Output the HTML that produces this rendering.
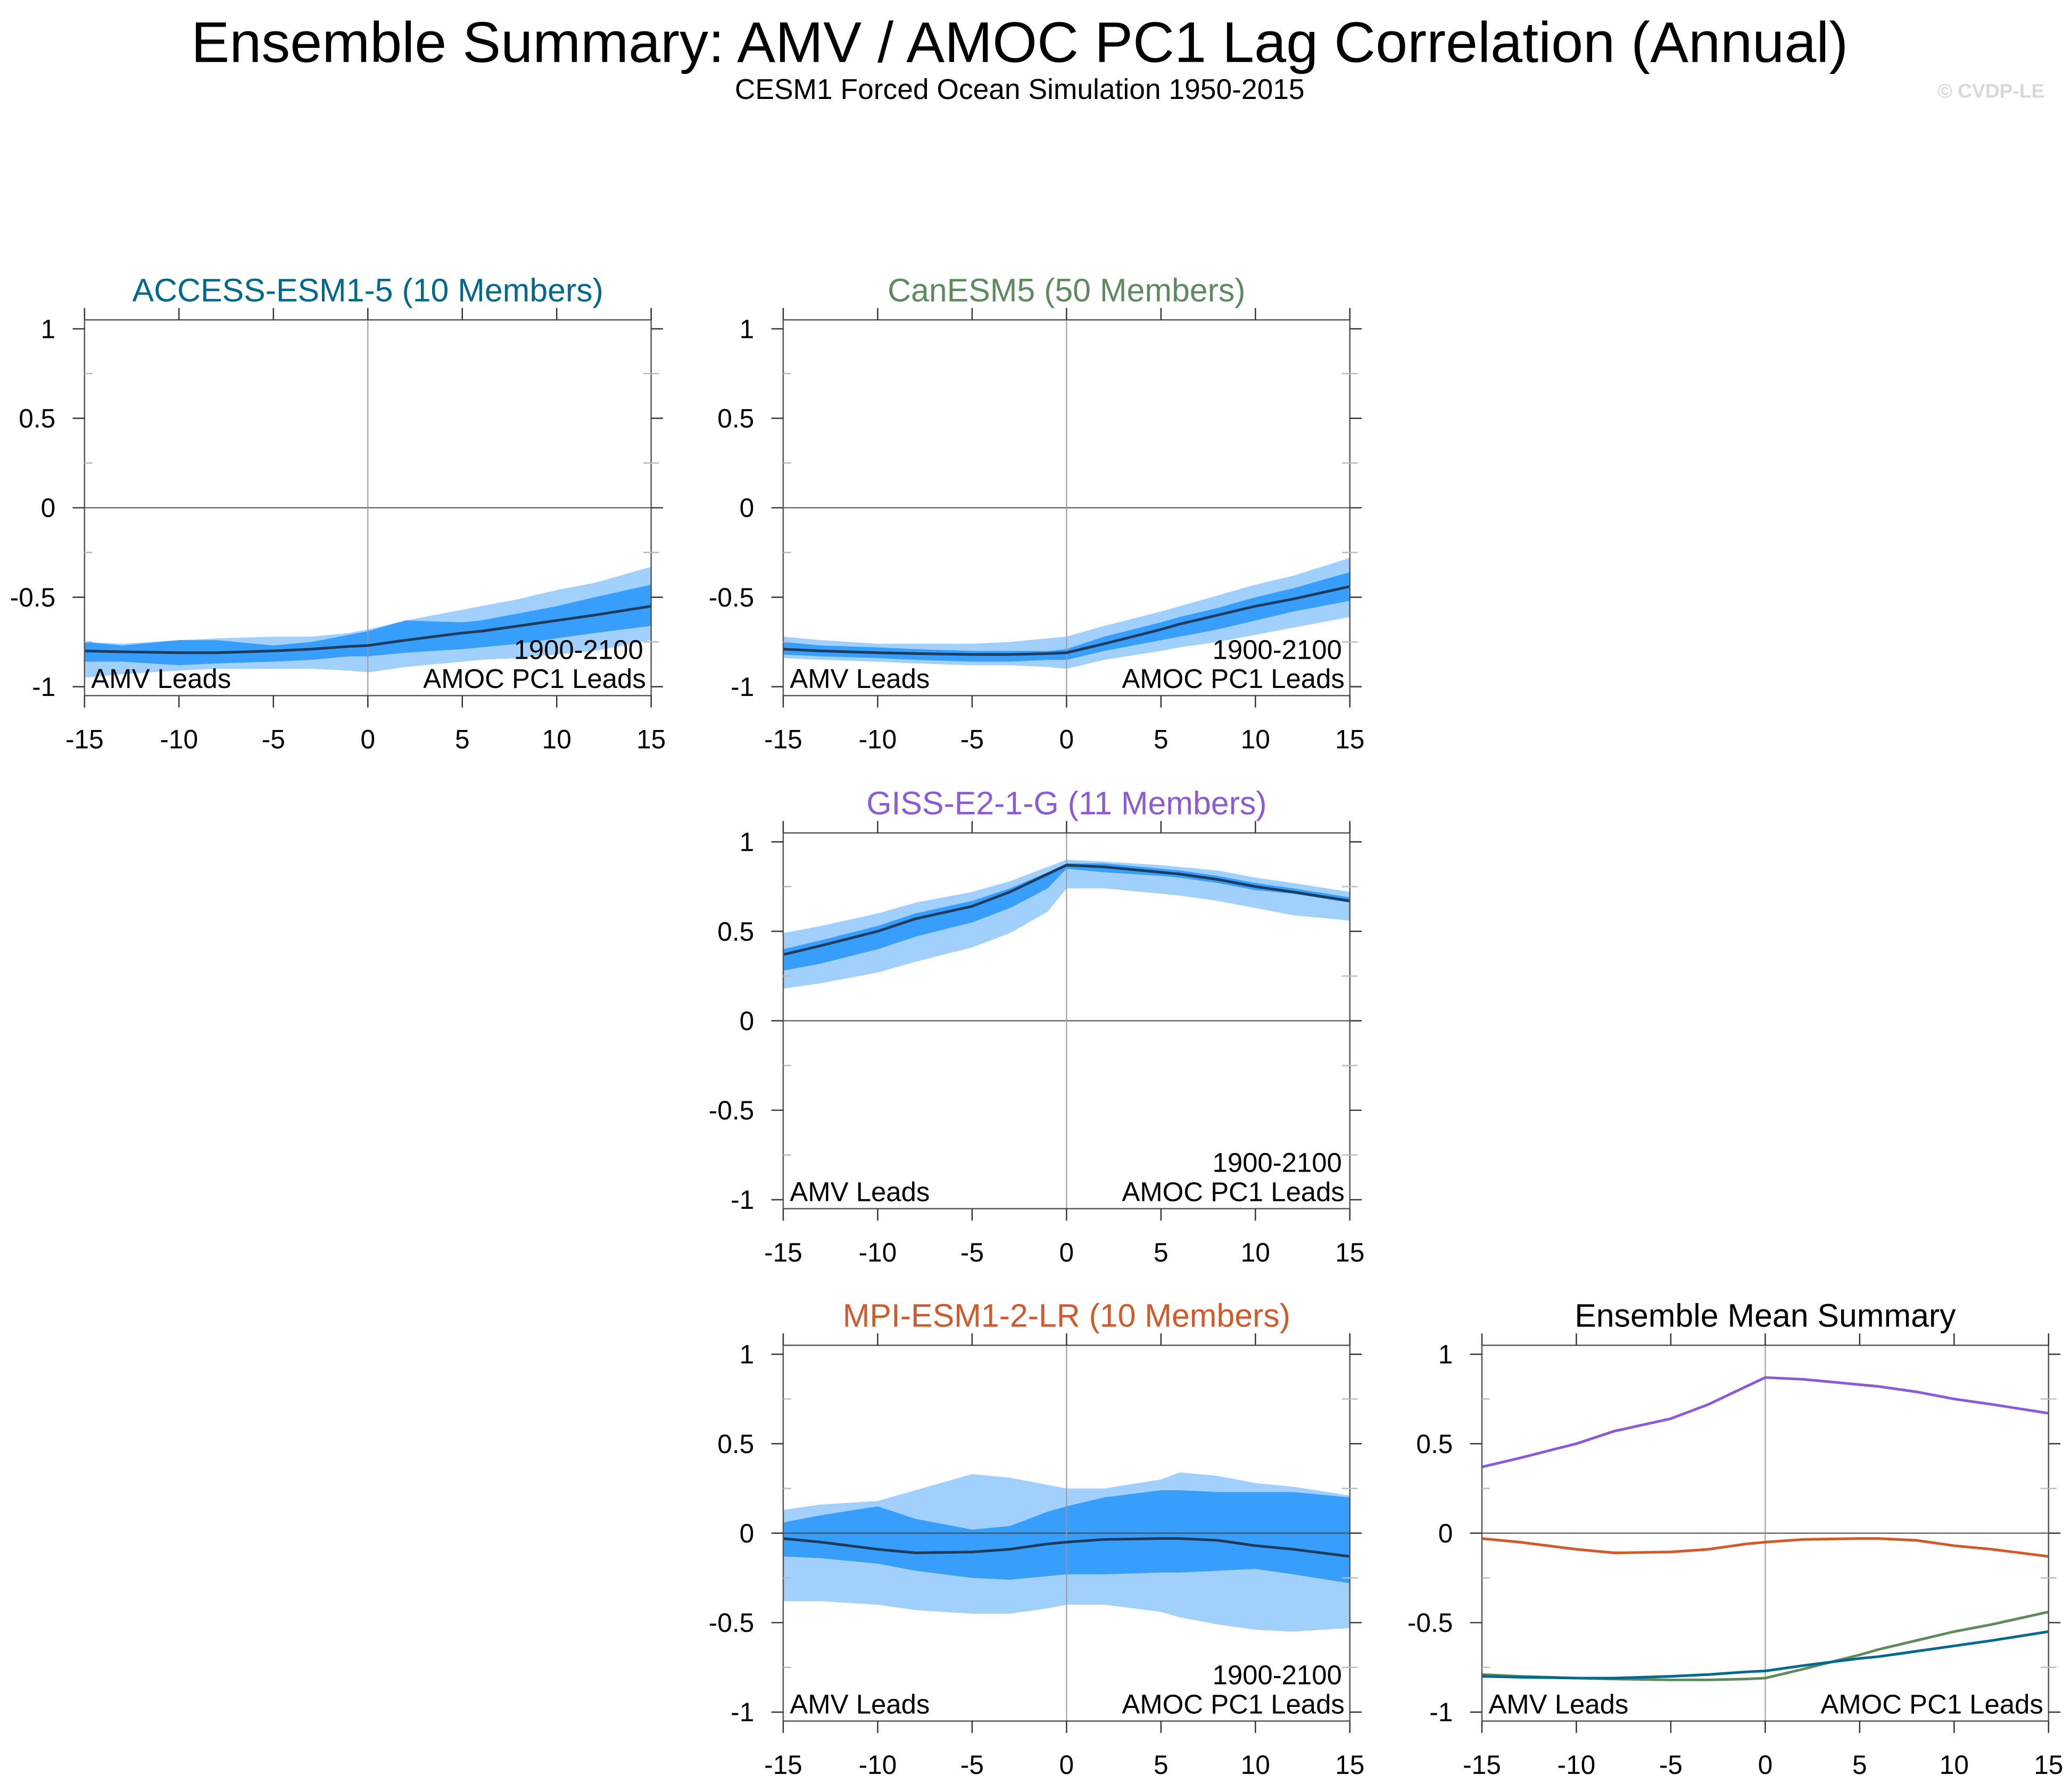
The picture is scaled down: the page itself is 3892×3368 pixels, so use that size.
<!DOCTYPE html>
<html><head><meta charset="utf-8"><style>
html,body{margin:0;padding:0;background:#fff;}
svg{display:block;font-family:"Liberation Sans",sans-serif;}
</style></head><body>
<svg id="chart" width="3892" height="3368" viewBox="0 0 1568 1357" preserveAspectRatio="none" xmlns="http://www.w3.org/2000/svg">
<text x="772" y="47" font-size="43.5" text-anchor="middle" fill="#000">Ensemble Summary: AMV / AMOC PC1 Lag Correlation (Annual)</text>
<text x="772" y="75" font-size="21.5" text-anchor="middle" fill="#000">CESM1 Forced Ocean Simulation 1950-2015</text>
<text x="1548" y="74" font-size="15" font-weight="bold" text-anchor="end" fill="#d8d8d8">© CVDP-LE</text>
<g id="plots"></g>
</svg>
<script>
const lags = [-15,-13,-10,-8,-5,-3,-1,0,2,5,6,8,10,12,15];
const accessMean = [-0.80,-0.805,-0.81,-0.81,-0.80,-0.79,-0.775,-0.77,-0.74,-0.70,-0.69,-0.66,-0.63,-0.60,-0.55];
const accessDarkU = [-0.75,-0.77,-0.74,-0.74,-0.77,-0.75,-0.71,-0.69,-0.63,-0.64,-0.63,-0.59,-0.55,-0.50,-0.43];
const accessDarkL = [-0.86,-0.86,-0.88,-0.87,-0.86,-0.85,-0.83,-0.83,-0.81,-0.79,-0.78,-0.76,-0.73,-0.70,-0.66];
const accessLightU = [-0.75,-0.76,-0.74,-0.73,-0.72,-0.72,-0.70,-0.68,-0.63,-0.57,-0.55,-0.51,-0.46,-0.42,-0.33];
const accessLightL = [-0.95,-0.93,-0.91,-0.90,-0.90,-0.90,-0.91,-0.92,-0.89,-0.86,-0.85,-0.84,-0.82,-0.80,-0.74];
const canMean = [-0.79,-0.80,-0.81,-0.815,-0.82,-0.82,-0.815,-0.81,-0.76,-0.68,-0.65,-0.60,-0.55,-0.51,-0.44];
const canDarkU = [-0.75,-0.77,-0.78,-0.79,-0.80,-0.80,-0.80,-0.79,-0.72,-0.64,-0.61,-0.56,-0.50,-0.45,-0.36];
const canDarkL = [-0.82,-0.83,-0.84,-0.85,-0.86,-0.86,-0.85,-0.85,-0.80,-0.74,-0.72,-0.68,-0.63,-0.58,-0.52];
const canLightU = [-0.72,-0.74,-0.76,-0.76,-0.76,-0.75,-0.73,-0.72,-0.66,-0.58,-0.55,-0.49,-0.43,-0.38,-0.28];
const canLightL = [-0.84,-0.85,-0.86,-0.87,-0.88,-0.88,-0.89,-0.90,-0.85,-0.80,-0.78,-0.75,-0.71,-0.67,-0.61];
const gissMean = [0.37,0.42,0.50,0.57,0.64,0.72,0.82,0.87,0.86,0.83,0.82,0.79,0.75,0.72,0.67];
const gissDarkU = [0.40,0.45,0.53,0.60,0.67,0.74,0.83,0.88,0.88,0.85,0.84,0.81,0.77,0.74,0.69];
const gissDarkL = [0.28,0.32,0.40,0.47,0.55,0.63,0.74,0.85,0.83,0.81,0.80,0.77,0.73,0.71,0.66];
const gissLightU = [0.49,0.53,0.60,0.66,0.72,0.78,0.86,0.90,0.89,0.87,0.86,0.84,0.80,0.77,0.72];
const gissLightL = [0.18,0.21,0.27,0.33,0.41,0.49,0.61,0.74,0.74,0.71,0.70,0.67,0.63,0.59,0.56];
const mpiMean = [-0.03,-0.05,-0.09,-0.11,-0.105,-0.09,-0.06,-0.05,-0.035,-0.03,-0.03,-0.04,-0.07,-0.09,-0.13];
const mpiDarkU = [0.06,0.10,0.15,0.08,0.02,0.04,0.12,0.15,0.20,0.24,0.24,0.23,0.23,0.23,0.20];
const mpiDarkL = [-0.13,-0.14,-0.17,-0.21,-0.25,-0.26,-0.24,-0.23,-0.23,-0.22,-0.22,-0.21,-0.20,-0.23,-0.28];
const mpiLightU = [0.13,0.16,0.18,0.24,0.33,0.31,0.27,0.25,0.25,0.30,0.34,0.32,0.28,0.26,0.21];
const mpiLightL = [-0.38,-0.38,-0.40,-0.43,-0.45,-0.45,-0.42,-0.40,-0.40,-0.44,-0.47,-0.51,-0.54,-0.55,-0.53];
const xTicks = [-15,-10,-5,0,5,10,15];
const yTicks = [1,0.5,0,-0.5,-1];
const yTickLabels = ["1","0.5","0","-0.5","-1"];

const NS="http://www.w3.org/2000/svg";
const root=document.getElementById('plots');
function mk(tag,attrs,parent){const e=document.createElementNS(NS,tag);for(const k in attrs)e.setAttribute(k,attrs[k]);parent.appendChild(e);return e;}

function panel(name,x0,yc,title,color,bands,lines,showPeriod){
  const g=mk('g',{},root);
  
  
  const W=429, S=135.5;
  const sx=v=>x0+(v+15)/30*W;
  const sy=v=>yc-v*S;
  const top=sy(1.05), bot=sy(-1.05), L=sx(-15), R=sx(15);
  bands.forEach(([up,lo,col],i)=>{
    let d='M'+lags.map((l,j)=>sx(l)+','+sy(up[j])).join('L');
    for(let j=lags.length-1;j>=0;j--) d+='L'+sx(lags[j])+','+sy(lo[j]);
    const p=mk('path',{d:d+'Z',fill:col,stroke:'none'},g);
    
    
  });
  mk('line',{x1:L,x2:R,y1:sy(0),y2:sy(0),stroke:'#444','stroke-width':0.8},g);
  mk('line',{x1:sx(0),x2:sx(0),y1:top,y2:bot,stroke:'#999','stroke-width':0.8},g);
  lines.forEach(([vals,col,w])=>{
    const p=mk('polyline',{points:lags.map((l,j)=>sx(l)+','+sy(vals[j])).join(' '),fill:'none',stroke:col,'stroke-width':w,'stroke-linejoin':'round'},g);
    
    
  });
  const fr=mk('rect',{x:L,y:top,width:W,height:bot-top,fill:'none',stroke:'#555','stroke-width':1},g);
  
  
  xTicks.forEach(t=>{
    mk('line',{x1:sx(t),x2:sx(t),y1:bot,y2:bot+9,stroke:'#333','stroke-width':1},g);
    mk('line',{x1:sx(t),x2:sx(t),y1:top,y2:top-9,stroke:'#333','stroke-width':1},g);
    const tx=mk('text',{x:sx(t),y:bot+40,'font-size':20,'text-anchor':'middle',fill:'#000'},g);
    tx.textContent=t;
    
    
  });
  yTicks.forEach((t,i)=>{
    mk('line',{x1:L-9,x2:L,y1:sy(t),y2:sy(t),stroke:'#333','stroke-width':1},g);
    mk('line',{x1:R,x2:R+9,y1:sy(t),y2:sy(t),stroke:'#333','stroke-width':1},g);
    const tx=mk('text',{x:L-22,y:sy(t)+7,'font-size':20,'text-anchor':'end',fill:'#000'},g);
    tx.textContent=yTickLabels[i];
    
    
  });
  [0.75,0.25,-0.25,-0.75].forEach(t=>{
    mk('line',{x1:L,x2:L+6,y1:sy(t),y2:sy(t),stroke:'#bbb','stroke-width':1},g);
    mk('line',{x1:R-6,x2:R+6,y1:sy(t),y2:sy(t),stroke:'#bbb','stroke-width':1},g);
  });
  const ti=mk('text',{x:(L+R)/2,y:top-14,'font-size':24.5,'text-anchor':'middle',fill:color},g);
  ti.textContent=title;
  
  
  const a=mk('text',{x:L+5,y:sy(-1)+1,'font-size':20.5,fill:'#000'},g);
  a.textContent='AMV Leads';
  
  
  const b=mk('text',{x:R-4,y:sy(-1)+1,'font-size':20.5,'text-anchor':'end',fill:'#000'},g);
  b.textContent='AMOC PC1 Leads';
  
  
  if(showPeriod){
    const c=mk('text',{x:R-6,y:sy(-1)-21,'font-size':20.5,'text-anchor':'end',fill:'#000'},g);
    c.textContent='1900-2100';
    
    
  }
}
const LIGHT='#a1d0fc', DARK='#379ffb', MEAN='#1d3b5c';
panel('access',64,384.5,'ACCESS-ESM1-5 (10 Members)','#00698c',[[accessLightU,accessLightL,LIGHT],[accessDarkU,accessDarkL,DARK]],[[accessMean,MEAN,2]],true);
panel('canesm5',593,384.5,'CanESM5 (50 Members)','#5f8a5f',[[canLightU,canLightL,LIGHT],[canDarkU,canDarkL,DARK]],[[canMean,MEAN,2]],true);
panel('giss',593,773,'GISS-E2-1-G (11 Members)','#8a5ad8',[[gissLightU,gissLightL,LIGHT],[gissDarkU,gissDarkL,DARK]],[[gissMean,MEAN,2]],true);
panel('mpi',593,1161,'MPI-ESM1-2-LR (10 Members)','#d25a2a',[[mpiLightU,mpiLightL,LIGHT],[mpiDarkU,mpiDarkL,DARK]],[[mpiMean,MEAN,2]],true);
panel('ensemble-mean',1122,1161,'Ensemble Mean Summary','#000',[],[[gissMean,'#8a5ad8',2],[mpiMean,'#d25a2a',2],[canMean,'#5f8a5f',2],[accessMean,'#00698c',2]],false);
</script>
</body></html>
